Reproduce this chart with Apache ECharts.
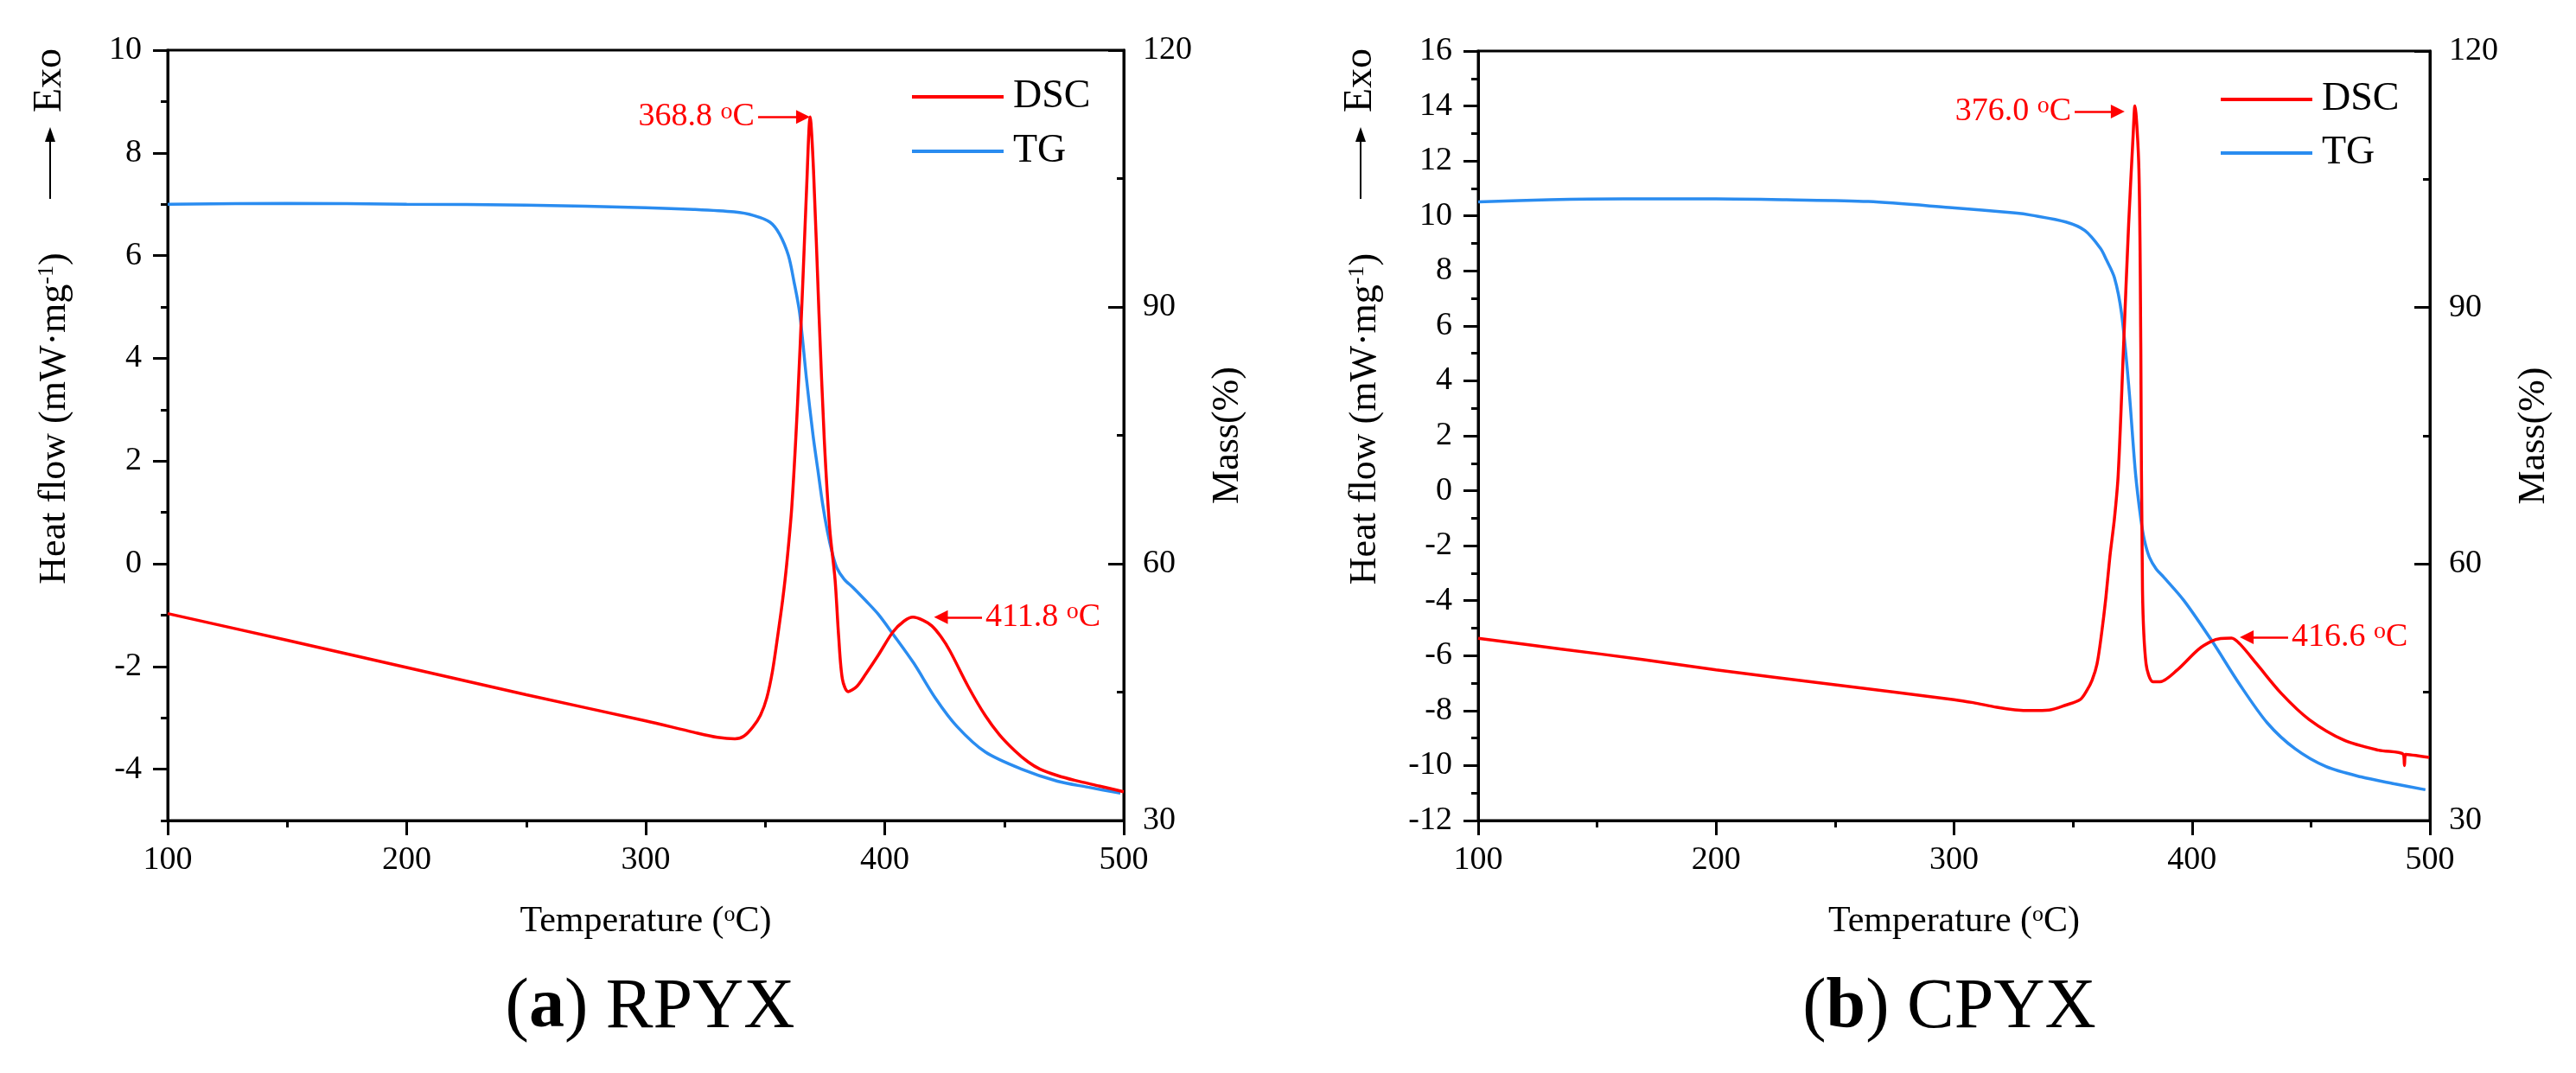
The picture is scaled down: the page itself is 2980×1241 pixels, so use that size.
<!DOCTYPE html>
<html>
<head>
<meta charset="utf-8">
<script src="https://cdn.jsdelivr.net/npm/echarts@6/dist/echarts.min.js"></script>
<style>
  html, body { margin: 0; padding: 0; background: #fff; }
  #chart { width: 2980px; height: 1241px; }
</style>
</head>
<body>
<div id="chart"></div>
<script>
// (a) RPYX : [temperature, heat flow] and [temperature, mass %]
var dscA = [
    [100, -0.97], [150, -1.49], [200, -2.02], [250, -2.55], [300, -3.06], [320, -3.28],
    [330, -3.38], [337.3, -3.41], [341, -3.36], [344.8, -3.18], [348, -2.95], [350.6, -2.62],
    [353, -2.1], [355.3, -1.38], [357.3, -0.7], [359, 0.0], [361.1, 1.1], [363.5, 3.1],
    [365.8, 5.57], [367.3, 7.3], [368.8, 8.7], [370.2, 7.66], [372.5, 4.86], [374.7, 2.42],
    [377, 0.67], [379.2, -0.3], [380.7, -1.4], [382.3, -2.25], [384.7, -2.49], [388.3, -2.39],
    [392, -2.15], [397.3, -1.78], [403.4, -1.33], [408, -1.12], [411.8, -1.04], [416, -1.1],
    [419.7, -1.21], [423.5, -1.42], [427.3, -1.7], [434.9, -2.39], [442.1, -2.96], [448, -3.33],
    [454.4, -3.64], [460, -3.86], [465, -4.0], [472, -4.12], [479.7, -4.22], [490, -4.33],
    [500, -4.44]
];
var tgA = [
    [100, 102.0], [150, 102.1], [200, 102.0], [250, 101.9], [300, 101.6], [320, 101.4],
    [337, 101.1], [345, 100.7], [352, 99.9], [356, 98.5], [359.7, 96.0], [362, 93.0],
    [364.4, 89.3], [367.3, 81.5], [370, 75.0], [372, 71.0], [374, 67.0], [376, 63.8],
    [378, 61.3], [380, 59.5], [383, 58.2], [386.8, 57.2], [392, 55.7], [397.3, 54.1],
    [403.4, 51.8], [412.1, 48.4], [421.2, 44.3], [430.2, 41.0], [442.1, 38.0], [457.3, 36.0],
    [472.2, 34.6], [485, 33.9], [498.6, 33.2]
];

// (b) CPYX
var dscB = [
    [100, -5.37], [135, -5.76], [169, -6.14], [200, -6.52], [250, -7.06], [300, -7.6],
    [308, -7.71], [318, -7.88], [325.6, -7.97], [332.5, -8.0], [340, -7.98], [347, -7.8],
    [353, -7.6], [355.8, -7.27], [358, -6.9], [360.1, -6.3], [362, -5.2], [363.8, -3.9],
    [365.5, -2.4], [367.4, -1.02], [369, 0.59], [371.2, 5.16], [373.4, 9.73], [375.3, 12.99],
    [376.0, 14.0], [377.7, 11.69], [378.5, 5.16], [379.2, -3.6], [380.7, -6.3], [383.6, -6.95],
    [386.5, -6.95], [393.8, -6.52], [402.6, -5.78], [408.4, -5.47], [412, -5.38], [416.6, -5.36],
    [420.1, -5.57], [427.3, -6.31], [437.5, -7.37], [449.2, -8.32], [463.8, -9.07], [478.4, -9.44],
    [488.8, -9.59], [489.3, -10.0], [489.8, -9.59], [499.7, -9.7]
];
var tgB = [
    [100, 102.35], [130, 102.6], [160.9, 102.7], [200, 102.7], [229.6, 102.6], [264, 102.4],
    [298, 101.7], [325.6, 101.06], [332.5, 100.8], [347, 100.0], [355, 99.0], [361.6, 96.9],
    [364, 95.6], [367.4, 93.5], [370.4, 89.3], [373.4, 80.9], [376.3, 70.5], [378.5, 65.3],
    [380, 62.8], [382.1, 60.8], [385, 59.4], [388, 58.5], [396.7, 55.7], [408.4, 51.0],
    [420.1, 45.9], [431.7, 41.4], [443.3, 38.4], [456.4, 36.3], [471.1, 35.1], [485, 34.3],
    [498.1, 33.6]
];

var heatTicksA = [-4, -2, 0, 2, 4, 6, 8, 10];

// peak notes: label, arrow tail, arrow tip (data coordinates)
var notesA = [
    { text: '368.8', from: [347.0, 8.7], to: [365.8, 8.7] },
    { text: '411.8', from: [440.7, -1.04], to: [423.5, -1.04] }
];
var notesB = [
    { text: '376.0', from: [350.7, 13.8], to: [368.8, 13.8] },
    { text: '416.6', from: [440.4, -5.33], to: [423.0, -5.33] }
];

var FONT = "'Liberation Serif', 'Times New Roman', serif";
var RED = '#ff0000';
var BLUE = '#2a8cf0';

var chart = echarts.init(document.getElementById('chart'));

function noteLines(notes) {
    return notes.map(function (n) {
        return [
            { coord: n.from, name: n.text },
            { coord: n.to }
        ];
    });
}

function xAxisFor(grid) {
    return {
        gridIndex: grid,
        type: 'value',
        min: 100,
        max: 500,
        interval: 100,
        axisLine: { show: true, onZero: false, lineStyle: { color: '#000', width: 3 } },
        axisTick: { show: true, length: 17, lineStyle: { color: '#000', width: 3 } },
        minorTick: { show: true, splitNumber: 2, length: 8, lineStyle: { color: '#000', width: 3 } },
        axisLabel: { fontSize: 38, margin: 27, color: '#000', fontFamily: FONT },
        splitLine: { show: false },
        name: 'Temperature ({s|o}C)',
        nameLocation: 'middle',
        nameGap: 96,
        nameTextStyle: {
            fontSize: 42, color: '#000', fontFamily: FONT,
            rich: { s: { fontSize: 26, fontFamily: FONT, color: '#000', padding: [0, 0, 16, 0] } }
        }
    };
}

function massAxisFor(grid) {
    return {
        gridIndex: grid,
        type: 'value',
        position: 'right',
        min: 30,
        max: 120,
        interval: 30,
        axisLine: { show: true, onZero: false, lineStyle: { color: '#000', width: 3 } },
        axisTick: { show: true, inside: true, length: 18, lineStyle: { color: '#000', width: 3 } },
        minorTick: { show: true, splitNumber: 2, length: 8, lineStyle: { color: '#000', width: 3 } },
        axisLabel: { fontSize: 38, margin: 22, color: '#000', fontFamily: FONT },
        splitLine: { show: false },
        name: 'Mass(%)',
        nameLocation: 'middle',
        nameRotate: 90,
        nameGap: 98,
        nameTextStyle: { fontSize: 44, color: '#000', fontFamily: FONT }
    };
}

var heatName = 'Heat flow (mW·mg{s|-1})';
var heatNameStyle = {
    fontSize: 44, color: '#000', fontFamily: FONT,
    padding: [0, 0, 0, 39],
    rich: { s: { fontSize: 26, fontFamily: FONT, color: '#000', padding: [0, 0, 18, 0] } }
};

function dscSeries(name, x, y, data, notes) {
    return {
        name: name,
        type: 'line',
        xAxisIndex: x,
        yAxisIndex: y,
        data: data,
        symbol: 'none',
        smooth: 0.3,
        lineStyle: { color: RED, width: 3.5 },
        itemStyle: { color: RED },
        z: 3,
        markLine: {
            silent: true,
            symbol: ['none', 'triangle'],
            symbolSize: 16,
            lineStyle: { color: RED, width: 2.5, type: 'solid' },
            label: {
                show: true,
                position: 'start',
                distance: 4,
                color: RED,
                fontSize: 38,
                fontFamily: FONT,
                formatter: function (p) { return p.name + ' {s|o}C'; },
                rich: { s: { fontSize: 28, color: RED, fontFamily: FONT, padding: [0, 0, 12, 0] } }
            },
            data: noteLines(notes)
        }
    };
}

function tgSeries(name, x, y, data) {
    return {
        name: name,
        type: 'line',
        xAxisIndex: x,
        yAxisIndex: y,
        data: data,
        symbol: 'none',
        smooth: 0.3,
        lineStyle: { color: BLUE, width: 3.5 },
        itemStyle: { color: BLUE },
        z: 2
    };
}

function exoMark(cx) {
    return [
        { type: 'line', shape: { x1: cx, y1: 230, x2: cx, y2: 160 }, style: { stroke: '#000', lineWidth: 2 } },
        { type: 'polygon', shape: { points: [[cx, 147], [cx - 6, 164], [cx + 6, 164]] }, style: { fill: '#000' } },
        {
            type: 'text', x: cx, y: 93, rotation: Math.PI / 2,
            style: { text: 'Exo', font: '46px ' + FONT, fill: '#000', align: 'center', verticalAlign: 'middle' }
        }
    ];
}

function legendFor(left, top, gap) {
    return {
        left: left, top: top, orient: 'vertical', itemWidth: 106, itemHeight: 4, itemGap: gap,
        icon: 'rect',
        data: ['DSC', 'TG'],
        textStyle: { fontSize: 46, lineHeight: 50, color: '#000', fontFamily: FONT, padding: [0, 0, 0, 6] }
    };
}

var option = {
    animation: false,
    backgroundColor: '#fff',
    textStyle: { fontFamily: FONT },
    title: [
        {
            text: '({b|a}) RPYX', left: 747, top: 1120, textAlign: 'center',
            textStyle: { fontSize: 82, fontWeight: 'normal', color: '#000', fontFamily: FONT,
                rich: { b: { fontSize: 82, fontWeight: 'bold', color: '#000', fontFamily: FONT } } }
        },
        {
            text: '({b|b}) CPYX', left: 2250, top: 1120, textAlign: 'center',
            textStyle: { fontSize: 82, fontWeight: 'normal', color: '#000', fontFamily: FONT,
                rich: { b: { fontSize: 82, fontWeight: 'bold', color: '#000', fontFamily: FONT } } }
        }
    ],
    legend: [legendFor(1050, 82, 13), legendFor(2564, 85, 12)],
    grid: [
        { left: 194, top: 58, width: 1106, height: 891, show: true, borderColor: '#000', borderWidth: 3, containLabel: false },
        { left: 1710, top: 59, width: 1101, height: 890, show: true, borderColor: '#000', borderWidth: 3, containLabel: false }
    ],
    xAxis: [xAxisFor(0), xAxisFor(1)],
    yAxis: [
        {
            gridIndex: 0, type: 'value', position: 'left', min: -5, max: 10,
            axisLine: { show: true, onZero: false, lineStyle: { color: '#000', width: 3 } },
            axisTick: { show: true, length: 17, customValues: heatTicksA, lineStyle: { color: '#000', width: 3 } },
            axisLabel: { customValues: heatTicksA, fontSize: 38, margin: 30, color: '#000', fontFamily: FONT },
            splitLine: { show: false },
            name: heatName, nameLocation: 'middle', nameGap: 109, nameTextStyle: heatNameStyle
        },
        {
            gridIndex: 0, type: 'value', position: 'left', min: -5, max: 10, interval: 1,
            axisLine: { show: false, onZero: false },
            axisTick: { show: true, length: 8, lineStyle: { color: '#000', width: 3 } },
            axisLabel: { show: false },
            splitLine: { show: false }
        },
        massAxisFor(0),
        {
            gridIndex: 1, type: 'value', position: 'left', min: -12, max: 16, interval: 2,
            axisLine: { show: true, onZero: false, lineStyle: { color: '#000', width: 3 } },
            axisTick: { show: true, length: 17, lineStyle: { color: '#000', width: 3 } },
            minorTick: { show: true, splitNumber: 2, length: 8, lineStyle: { color: '#000', width: 3 } },
            axisLabel: { fontSize: 38, margin: 30, color: '#000', fontFamily: FONT },
            splitLine: { show: false },
            name: heatName, nameLocation: 'middle', nameGap: 109, nameTextStyle: heatNameStyle
        },
        massAxisFor(1)
    ],
    graphic: exoMark(58).concat(exoMark(1574)),
    series: [
        dscSeries('DSC', 0, 0, dscA, notesA),
        tgSeries('TG', 0, 2, tgA),
        dscSeries('DSC', 1, 3, dscB, notesB),
        tgSeries('TG', 1, 4, tgB)
    ]
};

chart.setOption(option);
</script>
</body>
</html>
